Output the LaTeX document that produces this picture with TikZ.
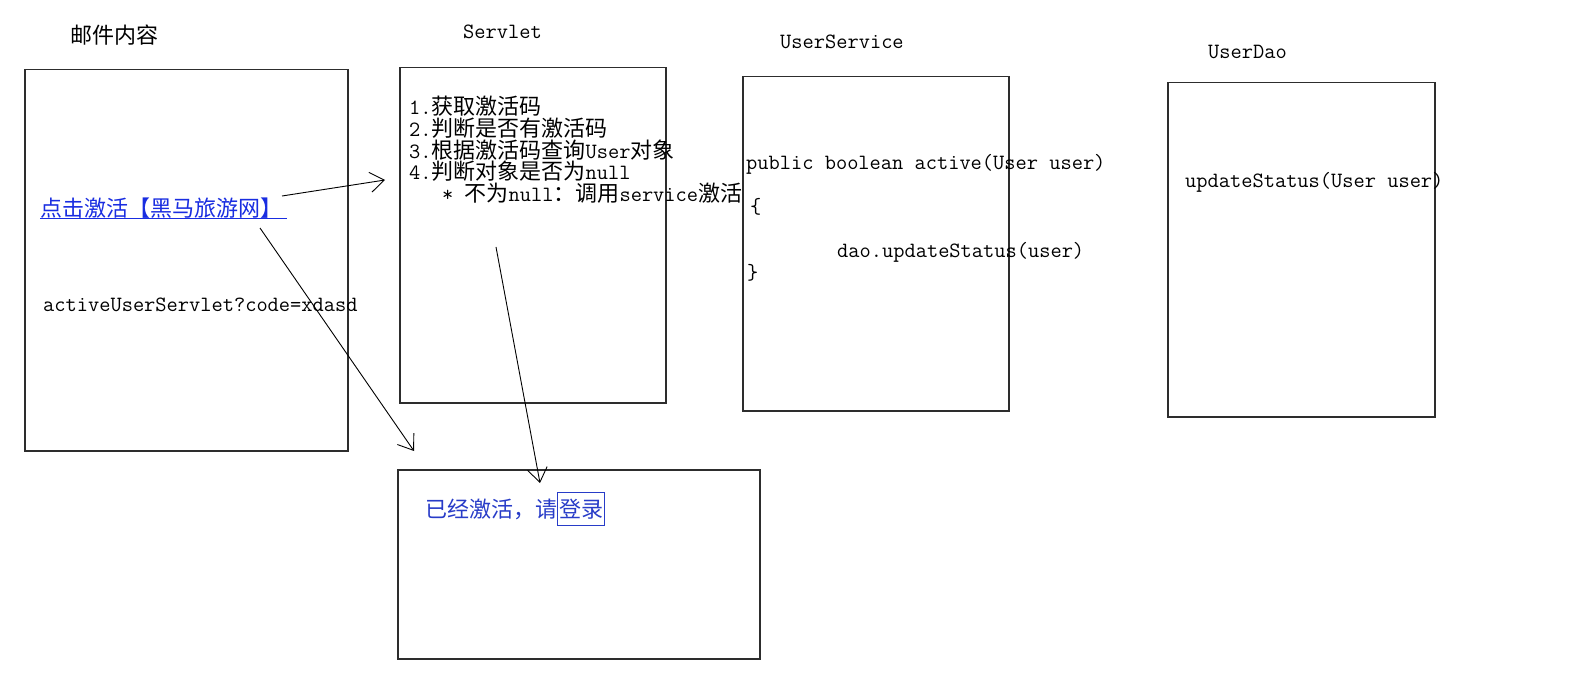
\documentclass[tikz,border=0pt]{standalone}
\usepackage{fontspec}
\newfontfamily\cjkf{Noto Sans CJK SC}
\usetikzlibrary{arrows.meta}
\newcommand\M[1]{{\ttfamily\fontsize{21.8}{22}\selectfont #1}}
\newcommand\C[1]{{\cjkf\fontsize{22}{23}\selectfont #1}}
\definecolor{boxgray}{RGB}{45,45,45}
\definecolor{linkblue}{RGB}{25,45,225}
\definecolor{resblue}{RGB}{40,60,200}
\begin{document}
\begin{tikzpicture}[x=1pt,y=-1pt,
  panel/.style={draw=boxgray,line width=1.5pt,anchor=north west,inner sep=0pt},
  txt/.style={anchor=west,inner sep=0pt},
  arr/.style={-{Straight Barb[length=14pt,width=20pt]},line width=0.9pt}]
\useasboundingbox (0,0) rectangle (1569,676);
\fill[white] (0,0) rectangle (1569,676);
% panels
\node[panel,minimum width=323pt,minimum height=381pt] (mail) at (24,69) {};
\node[panel,minimum width=266pt,minimum height=335pt] (servlet) at (399,67) {};
\node[panel,minimum width=266pt,minimum height=334pt] (service) at (742,76) {};
\node[panel,minimum width=267pt,minimum height=334pt] (dao) at (1167,82) {};
\node[panel,minimum width=362pt,minimum height=189pt] (result) at (397,469) {};
% headings
\node[txt] (hmail) at (70,35) {\C{邮件内容}};
\node[txt] (hservlet) at (463,32) {\M{Servlet}};
\node[txt] (hservice) at (780,42) {\M{UserService}};
\node[txt] (hdao) at (1208,52) {\M{UserDao}};
% mail content
\node[txt,text=linkblue] (link) at (40,208) {\C{点击激活【黑马旅游网】}};
\draw[linkblue,line width=1pt] ([yshift=-0.5pt]link.south west) -- ([xshift=5pt,yshift=-0.5pt]link.south east);
\node[txt] (url) at (43,305) {\M{activeUserServlet?code=xdasd}};
% servlet steps
\node[txt] (s1) at (409,106) {\M{1.}\C{获取激活码}};
\node[txt] (s2) at (409,128) {\M{2.}\C{判断是否有激活码}};
\node[txt] (s3) at (409,150) {\M{3.}\C{根据激活码查询}\M{User}\C{对象}};
\node[txt] (s4) at (409,171) {\M{4.}\C{判断对象是否为}\M{null}};
\node[txt] (s5) at (442,193) {\M{* }\C{不为}\M{null}\C{：调用}\M{service}\C{激活}};
% service
\node[txt] (sv1) at (746,164) {\M{public boolean active(User user)}};
\node[txt] (sv2) at (750,207) {\M{\{}};
\node[txt] (sv3) at (837,252) {\M{dao.updateStatus(user)}};
\node[txt] (sv4) at (747,273) {\M{\}}};
% dao
\node[txt] (d1) at (1185,182) {\M{updateStatus(User user)}};
% result
\node[txt,text=resblue] (res1) at (425,509) {\C{已经激活，请}};
\node[draw=resblue,line width=1pt,text=resblue,anchor=west,inner xsep=1.5pt,minimum height=33pt] (login) at (res1.east) {\C{登录}};
% arrows
\coordinate (a1s) at (282,196);
\coordinate (a1e) at (385,180);
\coordinate (a2s) at (260,228);
\coordinate (a2e) at (414,451);
\coordinate (a3s) at (496,247);
\coordinate (a3e) at (540,483);
\draw[arr] (a1s) -- (a1e);
\draw[arr] (a2s) -- (a2e);
\draw[arr] (a3s) -- (a3e);
\end{tikzpicture}
\end{document}
